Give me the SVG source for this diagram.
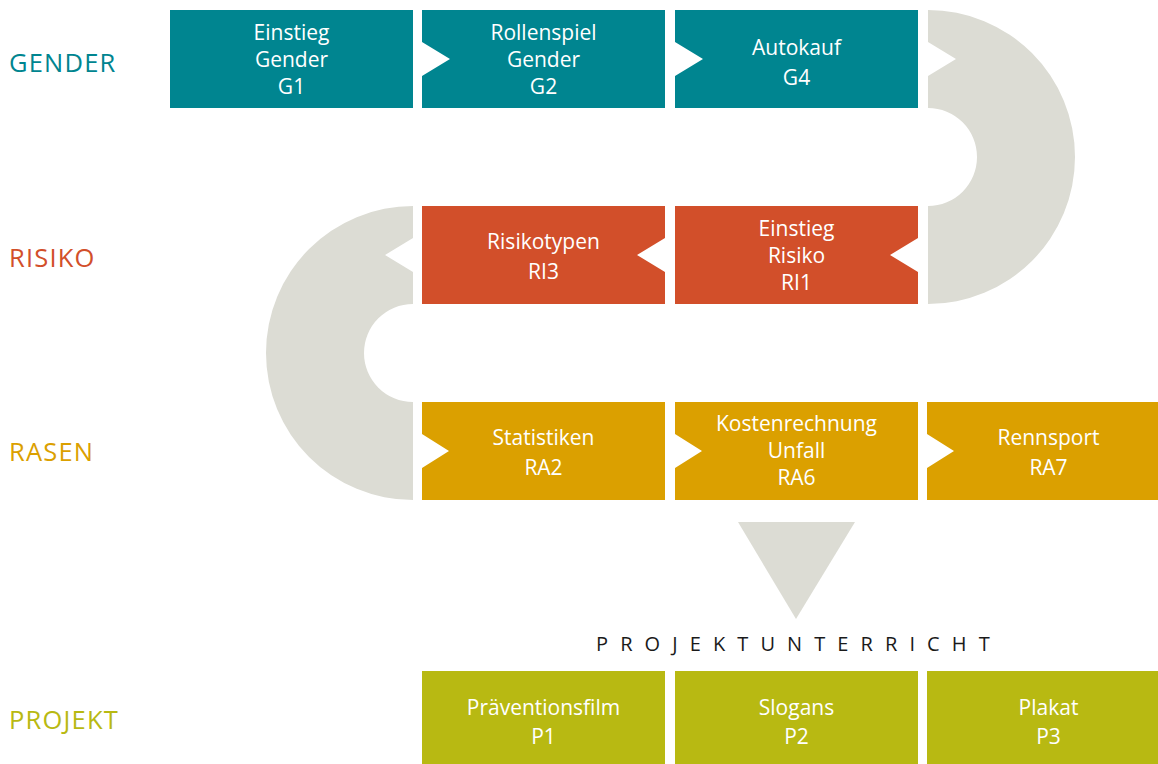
<svg xmlns="http://www.w3.org/2000/svg" width="1158" height="764" viewBox="0 0 1158 764">
  <style>
    .t { font-family: "Open Sans", "Liberation Sans", sans-serif; font-size: 21px; fill: #ffffff; text-anchor: middle; }
    .lbl { font-family: "Open Sans", "Liberation Sans", sans-serif; font-size: 25.5px; letter-spacing: 1.2px; }
    .gender { fill: #008590; }
    .risiko { fill: #D24F2A; }
    .rasen { fill: #DBA000; }
    .projekt { fill: #B8B912; }
    .flow { fill: #DCDCD4; }
    .pu { font-family: "Open Sans", "Liberation Sans", sans-serif; font-size: 20px; letter-spacing: 12.1px; fill: #1a1a1a; }
  </style>
  <rect width="1158" height="764" fill="#ffffff"/>

  <!-- row labels -->
  <text class="lbl gender" x="9" y="72">GENDER</text>
  <text class="lbl risiko" x="9" y="267">RISIKO</text>
  <text class="lbl rasen" x="9" y="461">RASEN</text>
  <text class="lbl projekt" x="9" y="729">PROJEKT</text>

  <!-- connectors -->
  <g id="connectors">
    <path class="flow" d="M928,10 A147,147 0 0 1 928,304 L928,206 A49,49 0 0 0 928,108 L928,76 L956,59 L928,42 Z"/>
    <path class="flow" d="M413,206 A147,147 0 0 0 413,500 L413,402 A49,49 0 0 1 413,304 L413,272 L385,255 L413,238 Z"/>
    <path class="flow" d="M738,522 L855,522 L796,619 Z"/>
  </g>

  <!-- GENDER row -->
  <g id="G1">
    <rect class="gender" x="170" y="10" width="243" height="98"/>
    <text class="t" x="291.5" y="40">Einstieg</text>
    <text class="t" x="291.5" y="67">Gender</text>
    <text class="t" x="291.5" y="94">G1</text>
  </g>
  <g id="G2">
    <path class="gender" d="M422,10 H665 V108 H422 V76 L450,59 L422,42 Z"/>
    <text class="t" x="543.5" y="40">Rollenspiel</text>
    <text class="t" x="543.5" y="67">Gender</text>
    <text class="t" x="543.5" y="94">G2</text>
  </g>
  <g id="G4">
    <path class="gender" d="M675,10 H918 V108 H675 V76 L703,59 L675,42 Z"/>
    <text class="t" x="796.5" y="55">Autokauf</text>
    <text class="t" x="796.5" y="85">G4</text>
  </g>

  <!-- RISIKO row -->
  <g id="RI3">
    <path class="risiko" d="M422,206 H665 V238 L637,255 L665,272 V304 H422 Z"/>
    <text class="t" x="543.5" y="249">Risikotypen</text>
    <text class="t" x="543.5" y="279">RI3</text>
  </g>
  <g id="RI1">
    <path class="risiko" d="M675,206 H918 V238 L890,255 L918,272 V304 H675 Z"/>
    <text class="t" x="796.5" y="236">Einstieg</text>
    <text class="t" x="796.5" y="263">Risiko</text>
    <text class="t" x="796.5" y="290">RI1</text>
  </g>

  <!-- RASEN row -->
  <g id="RA2">
    <path class="rasen" d="M422,402 H665 V500 H422 V468 L449,451 L422,434 Z"/>
    <text class="t" x="543.5" y="445">Statistiken</text>
    <text class="t" x="543.5" y="475">RA2</text>
  </g>
  <g id="RA6">
    <path class="rasen" d="M675,402 H918 V500 H675 V468 L702,451 L675,434 Z"/>
    <text class="t" x="796.5" y="431">Kostenrechnung</text>
    <text class="t" x="796.5" y="458">Unfall</text>
    <text class="t" x="796.5" y="485">RA6</text>
  </g>
  <g id="RA7">
    <path class="rasen" d="M927,402 H1170 V500 H927 V468 L954,451 L927,434 Z"/>
    <text class="t" x="1048.5" y="445">Rennsport</text>
    <text class="t" x="1048.5" y="475">RA7</text>
  </g>

  <text class="pu" x="596" y="651">PROJEKTUNTERRICHT</text>

  <!-- PROJEKT row -->
  <g id="P1">
    <rect class="projekt" x="422" y="671" width="243" height="98"/>
    <text class="t" x="543.5" y="715">Präventionsfilm</text>
    <text class="t" x="543.5" y="744">P1</text>
  </g>
  <g id="P2">
    <rect class="projekt" x="675" y="671" width="243" height="98"/>
    <text class="t" x="796.5" y="715">Slogans</text>
    <text class="t" x="796.5" y="744">P2</text>
  </g>
  <g id="P3">
    <rect class="projekt" x="927" y="671" width="243" height="98"/>
    <text class="t" x="1048.5" y="715">Plakat</text>
    <text class="t" x="1048.5" y="744">P3</text>
  </g>
</svg>
